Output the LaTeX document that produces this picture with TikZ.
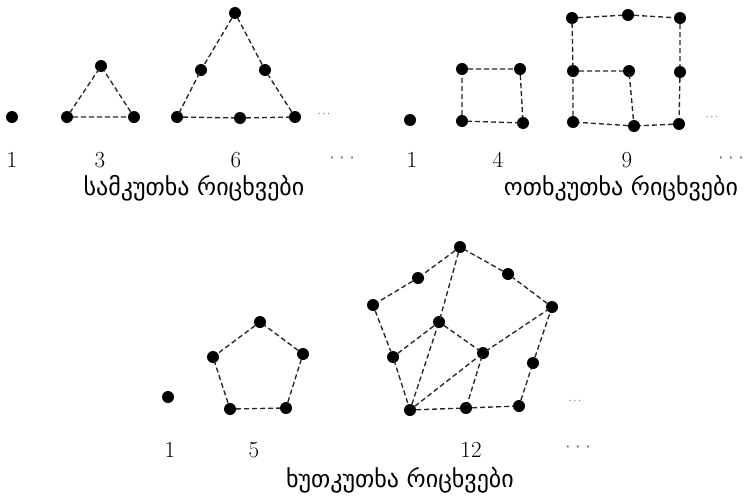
\documentclass[tikz,border=0pt]{standalone}
\usepackage{fontspec}
\newfontfamily\geofont{DejaVu Sans}
\begin{document}
\begin{tikzpicture}[x=1pt,y=-1pt,
  dot/.style={circle,fill=black,inner sep=0pt,minimum size=12pt},
  edge/.style={dashed,dash pattern=on 5pt off 3pt,line width=1.35pt,black!85,shorten <=-3pt,shorten >=-3pt},
  num/.style={font=\fontsize{23}{23}\selectfont,inner sep=0pt,anchor=center},
  lab/.style={font=\geofont\fontsize{24}{24}\selectfont,inner sep=0pt,anchor=center},
  ell/.style={font=\geofont\fontsize{10}{10}\selectfont,text=black!55,inner sep=0pt},
  ellb/.style={font=\geofont\fontsize{16}{16}\selectfont,text=black!60,inner sep=0pt}]
\useasboundingbox (0,0) rectangle (749,498);
% ---------- triangular numbers ----------
\node[dot] (t1) at (12,117) {};
\node[dot] (ta) at (67,117) {};
\node[dot] (tb) at (134,117) {};
\node[dot] (tc) at (101,66) {};
\draw[edge] (ta) -- (tb) -- (tc) -- (ta);
\node[dot] (tA) at (177,117) {};
\node[dot] (tB) at (240,118) {};
\node[dot] (tC) at (295,117) {};
\node[dot] (tD) at (265,70) {};
\node[dot] (tE) at (235,13) {};
\node[dot] (tF) at (201,70) {};
\draw[edge] (tA) -- (tB) -- (tC) -- (tD) -- (tE) -- (tF) -- (tA);
\node[ell] (te) at (324,115) {·\hspace{1.5pt}·\hspace{1.5pt}·};
\node[num] (tn1) at (12,160) {1};
\node[num] (tn3) at (100,160) {3};
\node[num] (tn6) at (236,160) {6};
\node[ellb] (tne) at (342,160) {·\hspace{5pt}·\hspace{5pt}·};
\node[lab] (tl) at (194,188) {სამკუთხა რიცხვები};
% ---------- square numbers ----------
\node[dot] (s1) at (410,120) {};
\node[dot] (sa) at (462,69) {};
\node[dot] (sb) at (520,69) {};
\node[dot] (sc) at (462,121) {};
\node[dot] (sd) at (523,123) {};
\draw[edge] (sc) -- (sa) -- (sb) -- (sd) -- (sc);
\node[dot] (q1) at (572,18) {};
\node[dot] (q2) at (628,15) {};
\node[dot] (q3) at (680,18) {};
\node[dot] (q4) at (573,71) {};
\node[dot] (q5) at (629,71) {};
\node[dot] (q6) at (680,72) {};
\node[dot] (q7) at (573,122) {};
\node[dot] (q8) at (634,126) {};
\node[dot] (q9) at (679,124) {};
\draw[edge] (q1) -- (q2) -- (q3) -- (q6) -- (q9) -- (q8) -- (q7) -- (q4) -- (q1);
\draw[edge] (q4) -- (q5) -- (q8);
\node[ell] (se) at (712,118) {·\hspace{1.5pt}·\hspace{1.5pt}·};
\node[num] (sn1) at (412,160) {1};
\node[num] (sn4) at (498,160) {4};
\node[num] (sn9) at (627,160) {9};
\node[ellb] (sne) at (731,160) {·\hspace{5pt}·\hspace{5pt}·};
\node[lab] (sl) at (621,188) {ოთხკუთხა რიცხვები};
% ---------- pentagonal numbers ----------
\node[dot] (p1) at (168,397) {};
\node[dot] (pa) at (260,322) {};
\node[dot] (pb) at (213,357) {};
\node[dot] (pc) at (303,354) {};
\node[dot] (pd) at (230,409) {};
\node[dot] (pe) at (286,408) {};
\draw[edge] (pd) -- (pe) -- (pc) -- (pa) -- (pb) -- (pd);
\node[dot] (BL) at (410,410) {};
\node[dot] (BM) at (466,408) {};
\node[dot] (BR) at (519,406) {};
\node[dot] (RL) at (533,363) {};
\node[dot] (R) at (552,307) {};
\node[dot] (UR) at (508,274) {};
\node[dot] (T) at (460,247) {};
\node[dot] (UL) at (418,278) {};
\node[dot] (L) at (373,305) {};
\node[dot] (LL) at (393,357) {};
\node[dot] (IT) at (439,322) {};
\node[dot] (IR) at (483,353) {};
\draw[edge] (BL) -- (BM) -- (BR) -- (RL) -- (R) -- (UR) -- (T) -- (UL) -- (L) -- (LL) -- (BL);
\draw[edge] (LL) -- (IT) -- (IR) -- (BM);
\draw[edge] (BL) -- (IT) -- (T);
\draw[edge] (BL) -- (IR) -- (R);
\node[ell] (pe2) at (575,402) {·\hspace{1.5pt}·\hspace{1.5pt}·};
\node[num] (pn1) at (170,450) {1};
\node[num] (pn5) at (254,450) {5};
\node[num] (pn12) at (471,450) {12};
\node[ellb] (pne) at (578,449) {·\hspace{5pt}·\hspace{5pt}·};
\node[lab] (pl) at (400,480) {ხუთკუთხა რიცხვები};
\end{tikzpicture}
\end{document}
